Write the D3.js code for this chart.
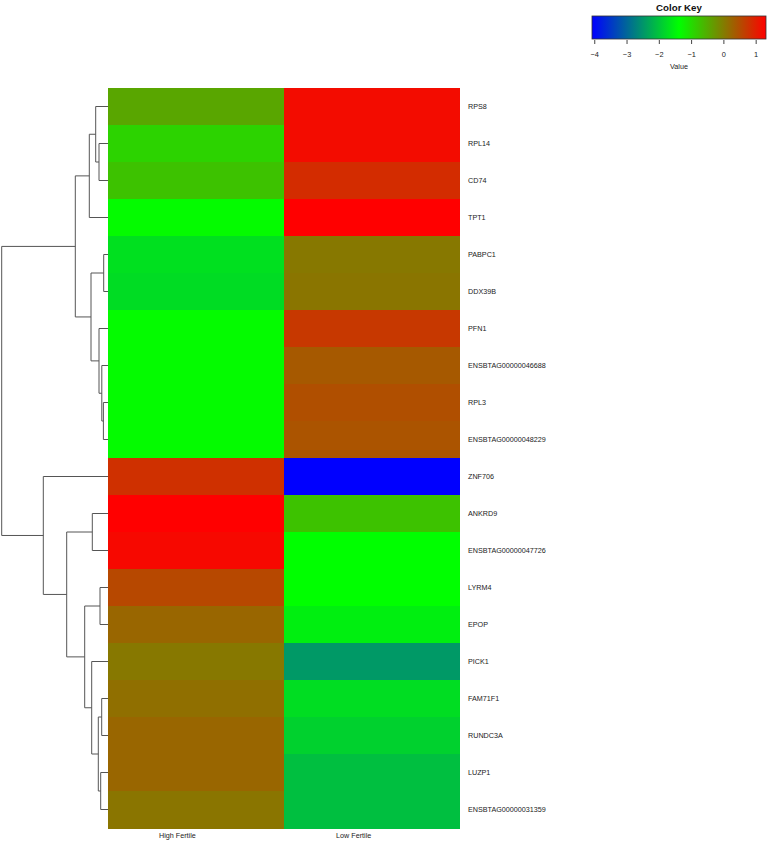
<!DOCTYPE html>
<html>
<head>
<meta charset="utf-8">
<script src="https://cdn.jsdelivr.net/npm/d3@7"></script>
<style>
  body { margin: 0; background: #fff; }
  svg { display: block; font-family: 'Liberation Sans', Arial, Helvetica, sans-serif; }
  .row-label, .col-label { font-size: 7.2px; fill: #222; }
  .key-axis text { font-size: 7.4px; fill: #222; }
</style>
</head>
<body>
<div id="chart"></div>
<script>
const width = 770
const height = 841

// rows in dendrogram order
const rowLabels = ['RPS8', 'RPL14', 'CD74', 'TPT1', 'PABPC1', 'DDX39B', 'PFN1',
  'ENSBTAG00000046688', 'RPL3', 'ENSBTAG00000048229', 'ZNF706', 'ANKRD9',
  'ENSBTAG00000047726', 'LYRM4', 'EPOP', 'PICK1', 'FAM71F1', 'RUNDC3A', 'LUZP1',
  'ENSBTAG00000031359']
const colLabels = ['High Fertile', 'Low Fertile']

const highFertile = [-0.43, -0.91, -0.73, -1.33, -1.70, -1.75, -1.33, -1.33, -1.33, -1.33,
  0.81, 1.32, 1.24, 0.56, 0.24, 0.05, 0.15, 0.24, 0.24, 0.08]
const lowFertile = [1.19, 1.19, 0.86, 1.32, 0.05, 0.08, 0.73, 0.38, 0.48, 0.43,
  -4.07, -0.73, -1.37, -1.38, -1.54, -2.45, -1.73, -1.86, -2.05, -2.05]

const keyTicks = [-4, -3, -2, -1, 0, 1]

// row clustering: [node, child, child, height]
const merges = [
  ['n1', 'PABPC1', 'DDX39B', 4.3],
  ['n2', 'RPL3', 'ENSBTAG00000048229', 4.6],
  ['n3', 'ENSBTAG00000046688', 'n2', 6.2],
  ['n4', 'PFN1', 'n3', 9],
  ['n5', 'n1', 'n4', 17],
  ['n6', 'RPL14', 'CD74', 9],
  ['n7', 'RPS8', 'n6', 12.3],
  ['n8', 'n7', 'TPT1', 18.7],
  ['n9', 'n8', 'n5', 32.7],
  ['n10', 'ANKRD9', 'ENSBTAG00000047726', 15.7],
  ['n11', 'LYRM4', 'EPOP', 8],
  ['n12', 'FAM71F1', 'RUNDC3A', 6.3],
  ['n13', 'LUZP1', 'ENSBTAG00000031359', 7.3],
  ['n14', 'n12', 'n13', 9.7],
  ['n15', 'PICK1', 'n14', 16.3],
  ['n16', 'n11', 'n15', 23.3],
  ['n17', 'n10', 'n16', 41.3],
  ['n18', 'ZNF706', 'n17', 64.7],
  ['n19', 'n9', 'n18', 106.3]
]

const svg = d3
  .select('#chart')
  .append('svg')
  .attr('width', width)
  .attr('height', height)

const cells = []
rowLabels.forEach((r, i) => {
  cells.push({ row: r, col: colLabels[0], value: highFertile[i] })
  cells.push({ row: r, col: colLabels[1], value: lowFertile[i] })
})

const extent = d3.extent(highFertile.concat(lowFertile))
const mid = (extent[0] + extent[1]) / 2

const colorScale = d3
  .scaleLinear()
  .domain([extent[0], mid, extent[1]])
  .range(['#0000ff', '#00ff00', '#ff0000'])

const xPositionScale = d3
  .scaleBand()
  .domain(colLabels)
  .range([108, 459])

const yPositionScale = d3
  .scaleBand()
  .domain(rowLabels)
  .range([88, 828])

// heatmap
svg
  .append('g')
  .selectAll('rect')
  .data(cells)
  .enter()
  .append('rect')
  .attr('x', d => xPositionScale(d.col))
  .attr('y', d => yPositionScale(d.row))
  .attr('width', xPositionScale.bandwidth() + 0.5)
  .attr('height', yPositionScale.bandwidth() + 0.5)
  .attr('fill', d => colorScale(d.value))
  .attr('shape-rendering', 'crispEdges')

svg
  .append('g')
  .selectAll('text')
  .data(rowLabels)
  .enter()
  .append('text')
  .attr('class', 'row-label')
  .attr('x', 468)
  .attr('y', d => yPositionScale(d) + yPositionScale.bandwidth() / 2)
  .attr('dy', '0.35em')
  .text(d => d)

svg
  .append('g')
  .selectAll('text')
  .data(colLabels)
  .enter()
  .append('text')
  .attr('class', 'col-label')
  .attr('x', d => xPositionScale(d) + xPositionScale.bandwidth() / 2)
  .attr('y', 838)
  .attr('text-anchor', 'end')
  .text(d => d)

// dendrogram
const nodes = {}
rowLabels.forEach(r => { nodes[r] = { name: r, height: 0 } })
merges.forEach(([id, a, b, h]) => {
  nodes[id] = { name: id, height: h, children: [nodes[a], nodes[b]] }
})
const root = d3.hierarchy(nodes[merges[merges.length - 1][0]])

const heightScale = d3
  .scaleLinear()
  .domain([0, root.data.height])
  .range([108, 1.7])

root.eachAfter(d => {
  d.x = heightScale(d.data.height)
  if (d.children) {
    d.y = d3.mean(d.children, c => c.y)
  } else {
    d.y = yPositionScale(d.data.name) + yPositionScale.bandwidth() / 2
  }
})

svg
  .append('g')
  .selectAll('path')
  .data(root.descendants().filter(d => d.children))
  .enter()
  .append('path')
  .attr('d', d => {
    const [a, b] = d.children
    return 'M' + a.x + ',' + a.y + 'H' + d.x + 'V' + b.y + 'H' + b.x
  })
  .attr('fill', 'none')
  .attr('stroke', '#555')
  .attr('stroke-width', 1)

// color key
const keyScale = d3
  .scaleLinear()
  .domain(extent)
  .range([592, 766])

const grad = svg
  .append('defs')
  .append('linearGradient')
  .attr('id', 'key-grad')
grad
  .selectAll('stop')
  .data(colorScale.domain())
  .enter()
  .append('stop')
  .attr('offset', d => (d - extent[0]) / (extent[1] - extent[0]))
  .attr('stop-color', d => colorScale(d))

svg
  .append('rect')
  .attr('x', keyScale(extent[0]))
  .attr('y', 16)
  .attr('width', keyScale(extent[1]) - keyScale(extent[0]))
  .attr('height', 23)
  .attr('fill', 'url(#key-grad)')
  .attr('stroke', '#333')
  .attr('stroke-width', 0.8)

const keyAxis = d3
  .axisBottom(keyScale)
  .tickValues(keyTicks)
  .tickFormat(d => (d < 0 ? '\u2212' + Math.abs(d) : d))
  .tickSize(4)
  .tickPadding(8)

svg
  .append('g')
  .attr('class', 'key-axis')
  .attr('transform', 'translate(0,40)')
  .call(keyAxis)
  .attr('font-family', null)
  .call(g => g.select('.domain').remove())
  .call(g => g.selectAll('line').attr('stroke', '#444'))

svg
  .append('text')
  .attr('x', 679)
  .attr('y', 69)
  .attr('text-anchor', 'middle')
  .attr('font-size', 7.2)
  .attr('fill', '#222')
  .text('Value')

svg
  .append('text')
  .attr('x', 679)
  .attr('y', 11)
  .attr('text-anchor', 'middle')
  .attr('font-size', 9.7)
  .attr('font-weight', 'bold')
  .attr('fill', '#111')
  .text('Color Key')
</script>
</body>
</html>
